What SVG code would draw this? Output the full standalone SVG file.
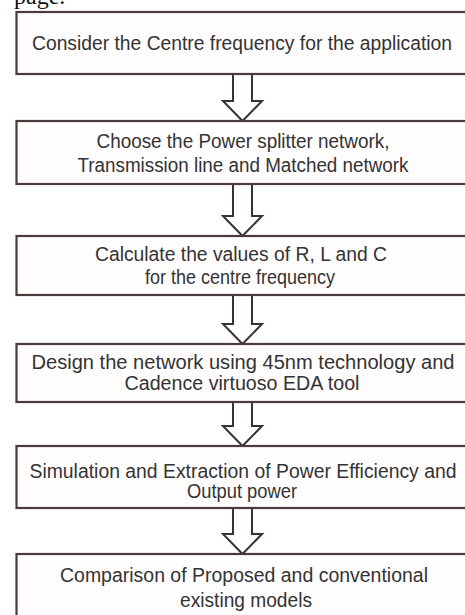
<svg xmlns="http://www.w3.org/2000/svg" width="465" height="615" viewBox="0 0 465 615">
<style>
.box{fill:#fffdfd;stroke:#4a3b3a;stroke-width:2.2}
.t{font-family:"Liberation Sans",Arial,sans-serif;font-size:19.5px;fill:#333;text-anchor:middle}
.arr{fill:#fff;stroke:#3a3232;stroke-width:2;stroke-linejoin:miter}
.pg{font-family:"Liberation Serif","Times New Roman",serif;font-size:24px;fill:#111}
</style>
<rect x="0" y="0" width="465" height="615" fill="#fff"/>
<text class="pg" x="14" y="4">page.</text>
<g id="connectors">
<path class="arr" d="M233,74 V101 H223 L242.5,121 L262,101 H252 V74"/>
<path class="arr" d="M233,184 V216 H223 L242.5,236 L262,216 H252 V184"/>
<path class="arr" d="M233,295 V324 H223 L242.5,344 L262,324 H252 V295"/>
<path class="arr" d="M233,402 V426 H223 L242.5,446 L262,426 H252 V402"/>
<path class="arr" d="M233,508 V534 H223 L242.5,554 L262,534 H252 V508"/>
</g>
<g id="n1">
<rect class="box" x="16.5" y="12" width="460" height="62"/>
<text class="t" x="242" y="50" textLength="420" lengthAdjust="spacingAndGlyphs">Consider the Centre frequency for the application</text>
</g>
<g id="n2">
<rect class="box" x="16.5" y="121" width="460" height="63"/>
<text class="t" x="243" y="148" textLength="293" lengthAdjust="spacingAndGlyphs">Choose the Power splitter network,</text>
<text class="t" x="243" y="172" textLength="331" lengthAdjust="spacingAndGlyphs">Transmission line and Matched network</text>
</g>
<g id="n3">
<rect class="box" x="16.5" y="236" width="460" height="59"/>
<text class="t" x="241" y="261" textLength="292" lengthAdjust="spacingAndGlyphs">Calculate the values of  R, L and C</text>
<text class="t" x="240" y="284" textLength="190" lengthAdjust="spacingAndGlyphs">for the centre frequency</text>
</g>
<g id="n4">
<rect class="box" x="16.5" y="344" width="460" height="58"/>
<text class="t" x="243" y="369" textLength="423" lengthAdjust="spacingAndGlyphs">Design the network using 45nm technology and</text>
<text class="t" x="242" y="390" textLength="235" lengthAdjust="spacingAndGlyphs">Cadence virtuoso EDA tool</text>
</g>
<g id="n5">
<rect class="box" x="16.5" y="446" width="460" height="62"/>
<text class="t" x="243" y="478" textLength="427" lengthAdjust="spacingAndGlyphs">Simulation and Extraction of Power Efficiency and</text>
<text class="t" x="242" y="498" textLength="110" lengthAdjust="spacingAndGlyphs">Output power</text>
</g>
<g id="n6">
<rect class="box" x="16.5" y="554" width="460" height="70"/>
<text class="t" x="244" y="582" textLength="368" lengthAdjust="spacingAndGlyphs">Comparison of  Proposed and conventional</text>
<text class="t" x="246" y="607" textLength="132" lengthAdjust="spacingAndGlyphs">existing models</text>
</g>
</svg>
